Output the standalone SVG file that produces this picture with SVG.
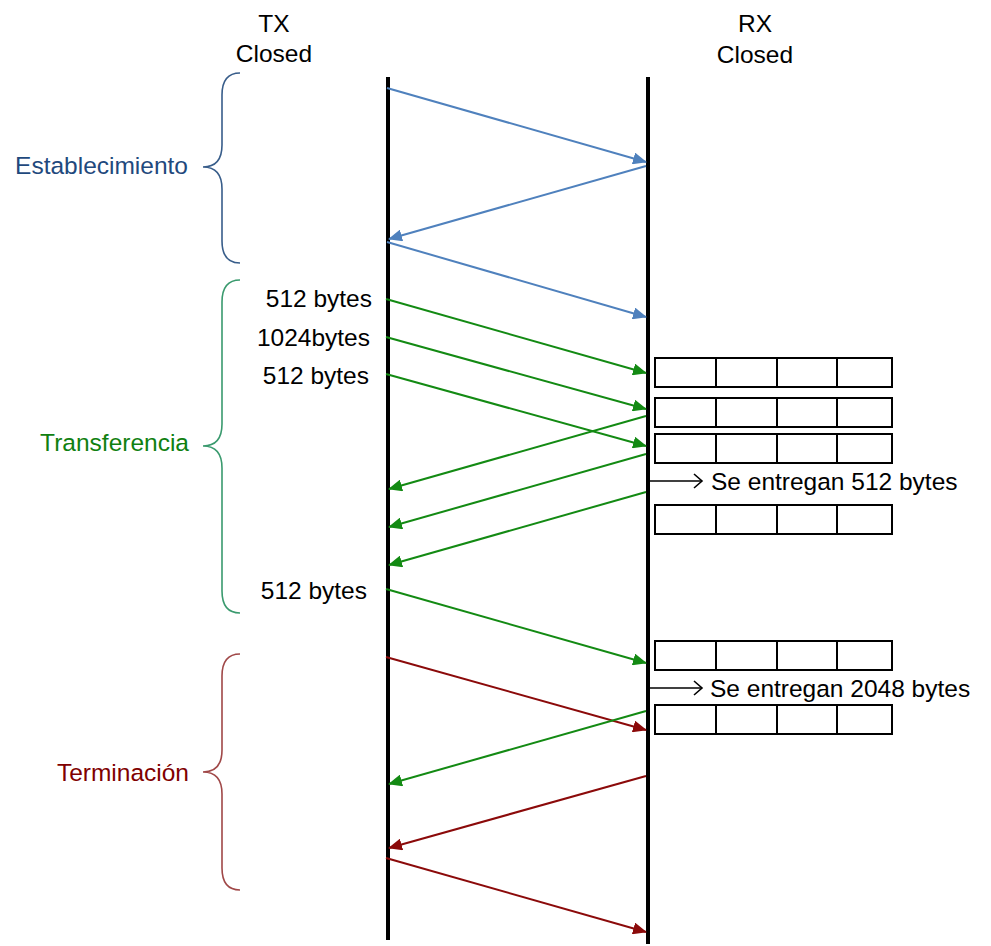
<svg xmlns="http://www.w3.org/2000/svg" width="991" height="946" viewBox="0 0 991 946">
<style>
text{font-family:"Liberation Sans",Arial,sans-serif;font-size:24.5px;fill:#000}
.life{stroke:#000;stroke-width:4;fill:none}
.blue{stroke:#4F81BD;stroke-width:2;fill:none}
.green{stroke:#138A13;stroke-width:2;fill:none}
.red{stroke:#8B0A0A;stroke-width:2;fill:none}
.cell{fill:#fff;stroke:#000;stroke-width:2}
.brace{fill:none;stroke-width:1.6}
</style>
<defs>
<marker id="ab" markerUnits="userSpaceOnUse" markerWidth="14" markerHeight="12" viewBox="0 0 14 12" refX="13" refY="6" orient="auto"><path d="M0,0 L14,6 L0,12 Z" fill="#4F81BD"/></marker>
<marker id="ag" markerUnits="userSpaceOnUse" markerWidth="14" markerHeight="12" viewBox="0 0 14 12" refX="13" refY="6" orient="auto"><path d="M0,0 L14,6 L0,12 Z" fill="#138A13"/></marker>
<marker id="ar" markerUnits="userSpaceOnUse" markerWidth="14" markerHeight="12" viewBox="0 0 14 12" refX="13" refY="6" orient="auto"><path d="M0,0 L14,6 L0,12 Z" fill="#8B0A0A"/></marker>
<g id="buf">
<rect class="cell" x="0" y="0" width="237" height="29"/>
<line x1="61" y1="0" x2="61" y2="29" stroke="#000" stroke-width="2"/>
<line x1="122" y1="0" x2="122" y2="29" stroke="#000" stroke-width="2"/>
<line x1="182" y1="0" x2="182" y2="29" stroke="#000" stroke-width="2"/>
</g>
</defs>
<rect width="991" height="946" fill="#fff"/>

<g id="tx">
<text x="274" y="32" text-anchor="middle">TX</text>
<text x="274" y="62" text-anchor="middle">Closed</text>
<line class="life" x1="388" y1="77" x2="388" y2="940"/>
</g>
<g id="rx">
<text x="755" y="32" text-anchor="middle">RX</text>
<text x="755" y="63" text-anchor="middle">Closed</text>
<line class="life" x1="648" y1="77" x2="648" y2="944"/>
</g>

<g id="phase-establecimiento">
<path class="brace" stroke="#385D8A" d="M240,73 Q222,73 222,95 L222,145 Q222,167 203,167 Q222,167 222,189 L222,241 Q222,263 240,263"/>
<text x="188" y="174" text-anchor="end" fill="#1F497D" style="fill:#1F497D">Establecimiento</text>
</g>
<g id="phase-transferencia">
<path class="brace" stroke="#3A9A6E" d="M240,280 Q222,280 222,302 L222,424 Q222,446 203,446 Q222,446 222,468 L222,591 Q222,613 240,613"/>
<text x="189" y="451" text-anchor="end" style="fill:#108010">Transferencia</text>
</g>
<g id="phase-terminacion">
<path class="brace" stroke="#A04848" d="M240,654 Q222,654 222,676 L222,750 Q222,772 203,772 Q222,772 222,794 L222,868 Q222,890 240,890"/>
<text x="189" y="781" text-anchor="end" style="fill:#800000">Terminación</text>
</g>

<g id="labels">
<text x="372" y="307" text-anchor="end">512 bytes</text>
<text x="370" y="346" text-anchor="end">1024bytes</text>
<text x="369" y="384" text-anchor="end">512 bytes</text>
<text x="367" y="599" text-anchor="end">512 bytes</text>
</g>

<g id="buffers">
<use href="#buf" x="655" y="358"/>
<use href="#buf" x="655" y="398"/>
<use href="#buf" x="655" y="434"/>
<use href="#buf" x="655" y="505"/>
<use href="#buf" x="655" y="641"/>
<use href="#buf" x="655" y="705"/>
</g>

<g id="deliveries">
<line x1="650" y1="481" x2="702" y2="481" stroke="#000" stroke-width="1.6"/>
<path d="M694,474 L702,481 L694,488" fill="none" stroke="#000" stroke-width="1.6"/>
<text x="711" y="490">Se entregan 512 bytes</text>
<line x1="650" y1="688" x2="702" y2="688" stroke="#000" stroke-width="1.6"/>
<path d="M694,681 L702,688 L694,695" fill="none" stroke="#000" stroke-width="1.6"/>
<text x="710" y="697">Se entregan 2048 bytes</text>
</g>

<g id="connectors">
<line class="blue" x1="387" y1="88" x2="646" y2="162" marker-end="url(#ab)"/>
<line class="blue" x1="646" y1="166" x2="389" y2="239" marker-end="url(#ab)"/>
<line class="blue" x1="387" y1="242" x2="646" y2="317" marker-end="url(#ab)"/>

<line class="green" x1="386" y1="299" x2="646" y2="373" marker-end="url(#ag)"/>
<line class="green" x1="386" y1="337" x2="646" y2="409" marker-end="url(#ag)"/>
<line class="green" x1="386" y1="374" x2="646" y2="446" marker-end="url(#ag)"/>
<line class="green" x1="646" y1="416" x2="389" y2="489" marker-end="url(#ag)"/>
<line class="green" x1="646" y1="454" x2="389" y2="527" marker-end="url(#ag)"/>
<line class="green" x1="646" y1="492" x2="389" y2="565" marker-end="url(#ag)"/>
<line class="green" x1="386" y1="589" x2="646" y2="663" marker-end="url(#ag)"/>

<line class="red" x1="386" y1="657" x2="646" y2="730" marker-end="url(#ar)"/>
<line class="green" x1="646" y1="711" x2="389" y2="784" marker-end="url(#ag)"/>
<line class="red" x1="646" y1="776" x2="389" y2="848" marker-end="url(#ar)"/>
<line class="red" x1="386" y1="858" x2="646" y2="932" marker-end="url(#ar)"/>
</g>
</svg>
